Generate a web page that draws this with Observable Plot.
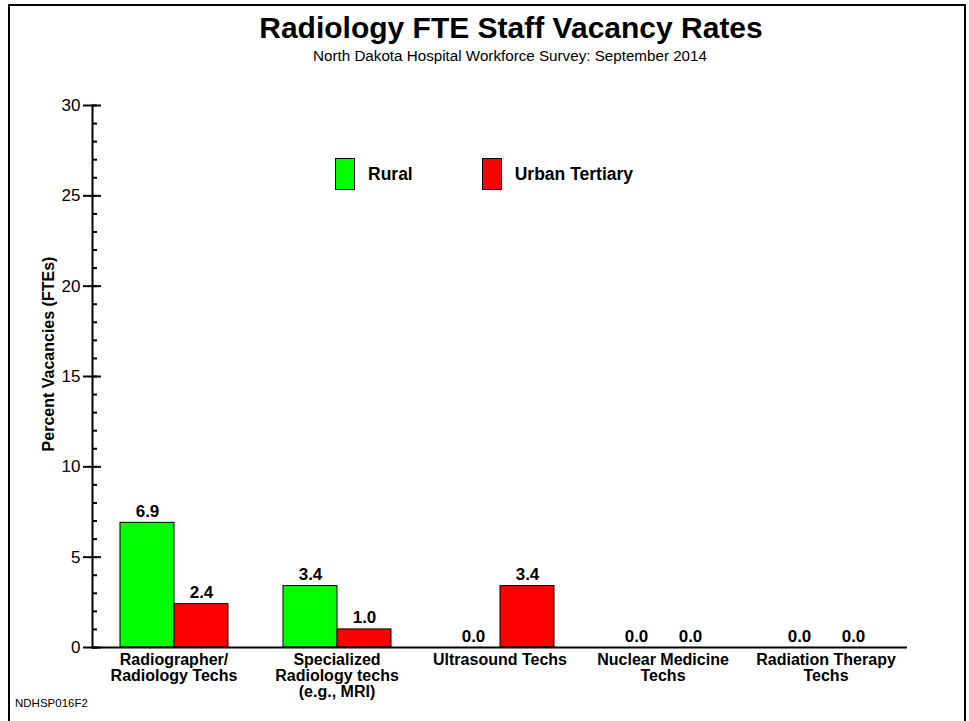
<!DOCTYPE html>
<html>
<head>
<meta charset="utf-8">
<script src="https://cdn.jsdelivr.net/npm/d3@7"></script>
<script src="https://cdn.jsdelivr.net/npm/@observablehq/plot@0.6"></script>
<style>
  body { margin: 0; background: #fff; }
  #page { position: relative; width: 969px; height: 721px; overflow: hidden; font-family: "Liberation Sans", Arial, Helvetica, sans-serif; color: #000; }
  #frame { position: absolute; left: 8px; top: 4px; width: 958px; height: 760px; border: 2px solid #000; box-sizing: border-box; pointer-events: none; }
  #chart { position: absolute; left: 0; top: 0; }
  .title { position: absolute; left: 511px; top: 12px; transform: translateX(-50%); white-space: nowrap; font-weight: bold; font-size: 30px; line-height: 32px; }
  .subtitle { position: absolute; left: 510px; top: 46.5px; transform: translateX(-50%); white-space: nowrap; font-size: 15.2px; line-height: 17px; }
  .ylabel { position: absolute; left: 48.5px; top: 354px; transform: translate(-50%, -50%) rotate(-90deg); white-space: nowrap; font-weight: bold; font-size: 16px; line-height: 16px; }
  .footer { position: absolute; left: 15px; top: 697px; font-size: 11.5px; line-height: 13px; white-space: nowrap; }
  .legend { position: absolute; top: 158px; left: 335px; display: flex; align-items: center; height: 32px; font-weight: bold; font-size: 17.5px; }
  .legend .sw { width: 20px; height: 32px; border: 1px solid #000; box-sizing: border-box; }
  .legend .lab { margin-left: 13px; }
</style>
</head>
<body>
<div id="page">
  <div id="chart"></div>
  <div class="title">Radiology FTE Staff Vacancy Rates</div>
  <div class="subtitle">North Dakota Hospital Workforce Survey: September 2014</div>
  <div class="ylabel">Percent Vacancies (FTEs)</div>
  <div class="legend" id="legend"></div>
  <div class="footer">NDHSP016F2</div>
  <div id="frame"></div>
</div>
<script>
// ---- data ----
const categories = [
  "Radiographer/\nRadiology Techs",
  "Specialized\nRadiology techs\n(e.g., MRI)",
  "Ultrasound Techs",
  "Nuclear Medicine\nTechs",
  "Radiation Therapy\nTechs"
];
const seriesNames = ["Rural", "Urban Tertiary"];
const ruralValues = [6.9, 3.4, 0.0, 0.0, 0.0];
const urbanValues = [2.4, 1.0, 3.4, 0.0, 0.0];
const seriesColors = ["#00ff00", "#ff0000"];
const yMajorTicks = [0, 5, 10, 15, 20, 25, 30];
const yMinorTicks = d3.range(0, 31, 1);

const rows = categories.flatMap((c, i) => [
  {category: c, series: seriesNames[0], value: ruralValues[i]},
  {category: c, series: seriesNames[1], value: urbanValues[i]}
]);

const chart = Plot.plot({
  width: 969,
  height: 721,
  marginTop: 105,
  marginBottom: 74,
  marginLeft: 91,
  marginRight: 62,
  style: {fontFamily: '"Liberation Sans", Arial, Helvetica, sans-serif', background: "transparent", color: "#000", overflow: "visible"},
  fx: {domain: categories, padding: 0, label: null},
  x: {domain: seriesNames, paddingInner: 0, paddingOuter: 0.5, axis: null},
  y: {domain: [0, 30], label: null},
  color: {domain: seriesNames, range: seriesColors},
  marks: [
    Plot.barY(rows, {fx: "category", x: "series", y: "value", fill: "series", stroke: "#000", strokeWidth: 1}),
    Plot.text(rows, {fx: "category", x: "series", y: "value", text: d => d.value.toFixed(1),
      lineAnchor: "bottom", dy: -6, fontWeight: "bold", fontSize: 17, fill: "#000"}),
    Plot.ruleY([0], {stroke: "#000", strokeWidth: 2}),
    Plot.frame({anchor: "left", facetAnchor: "left", stroke: "#000", strokeWidth: 2}),
    Plot.axisY({anchor: "left", ticks: yMinorTicks, tickSize: 5, dx: 5, text: null, label: null, strokeWidth: 2}),
    Plot.axisY({anchor: "left", ticks: yMajorTicks, tickSize: 9, dx: 9, text: null, label: null, strokeWidth: 2}),
    Plot.axisY({anchor: "left", ticks: yMajorTicks, tickSize: 9, tickPadding: 3, label: null, strokeWidth: 2,
      fontSize: 17, tickFormat: d => String(d)}),
    Plot.axisFx({anchor: "bottom", tickSize: 0, tickPadding: 6, label: null, fontSize: 16, fontWeight: "bold", lineHeight: 1.0})
  ]
});
document.getElementById("chart").appendChild(chart);

// legend (HTML), built from the series arrays
const legend = document.getElementById("legend");
seriesNames.forEach((name, i) => {
  const sw = document.createElement("div");
  sw.className = "sw";
  sw.style.background = seriesColors[i];
  if (i > 0) sw.style.marginLeft = "69px";
  const lab = document.createElement("div");
  lab.className = "lab";
  lab.textContent = name;
  legend.appendChild(sw);
  legend.appendChild(lab);
});
</script>
</body>
</html>
